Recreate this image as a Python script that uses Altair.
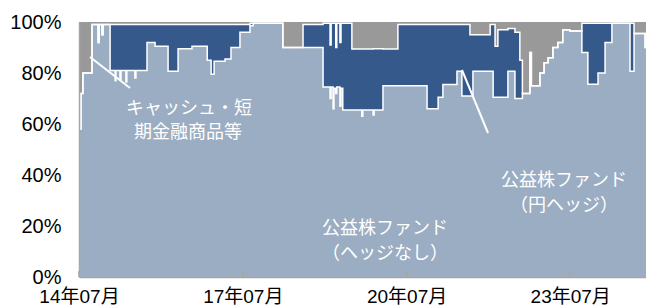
import altair as alt
import pandas as pd

# ---- data (share of fund assets, %) ----
dates = [
    "2014-07-01", "2014-07-14", "2014-07-27", "2014-09-26", "2014-11-06", "2014-11-13",
    "2014-12-02", "2014-12-09", "2015-01-25", "2015-02-28", "2015-03-05", "2015-04-01",
    "2015-04-08", "2015-05-11", "2015-05-17", "2015-07-10", "2015-07-17", "2015-09-29",
    "2015-11-22", "2016-02-17", "2016-04-24", "2016-07-26", "2016-11-05", "2016-12-01",
    "2016-12-21", "2017-03-04", "2017-04-13", "2017-06-12", "2017-08-18", "2017-09-08",
    "2018-03-26", "2018-08-08", "2018-12-20", "2019-02-05", "2019-02-12", "2019-02-25",
    "2019-03-03", "2019-03-15", "2019-03-22", "2019-04-12", "2019-04-19", "2019-05-01",
    "2019-07-01", "2019-09-05", "2019-09-12", "2019-11-20", "2019-11-27", "2020-01-25",
    "2020-05-04", "2020-11-15", "2021-01-28", "2021-03-01", "2021-06-03", "2021-07-06",
    "2021-08-29", "2021-09-18", "2022-01-11", "2022-01-31", "2022-02-13", "2022-03-04",
    "2022-05-10", "2022-06-26", "2022-07-29", "2022-08-15", "2022-10-04", "2022-10-14",
    "2022-12-10", "2023-01-07", "2023-02-03", "2023-03-07", "2023-04-09", "2023-05-12",
    "2023-06-28", "2023-09-17", "2023-10-27", "2024-01-03", "2024-02-19", "2024-04-05",
    "2024-08-04", "2024-08-31", "2024-11-13", "2024-12-16", "2024-12-31",
]
none_pct = [
    58, 72, 80, 99, 92, 99,
    95, 99, 81, 77, 81, 77.5,
    81, 76.5, 81, 78, 81, 92,
    90.5, 80.7, 89.5, 90.5, 85, 79.5,
    84.6, 85.5, 90, 96, 98.5, 99.5,
    90, 90, 74.5, 70, 74.5, 66,
    74, 72, 74.5, 67, 74, 65.5,
    65.5, 63, 65.5, 63.5, 65.5, 75,
    75, 66, 70.5, 75.5, 80.7, 71,
    71, 80.7, 80.7, 70.5, 70.5, 70.5,
    80.7, 70, 70, 72, 88, 75,
    80, 84, 86, 90, 92, 97,
    96.5, 88, 75.6, 80, 92, 99.5,
    80.7, 95.5, 90, 95, 95,
]
hedge_pct = [
    0, 0, 0, 0, 0, 0,
    0, 0, 18, 22, 18, 21.5,
    18, 22.5, 18, 21, 18, 7,
    8.5, 18.3, 9.5, 8.5, 14, 19.5,
    14.4, 13.5, 9, 3, 1, 0,
    0, 9, 25, 21, 25, 33.5,
    25.5, 18, 25, 25, 25.5, 34,
    23.9, 26.4, 23.9, 26, 24, 14.4,
    24, 33, 28.5, 23.5, 18.3, 28,
    24, 14.3, 18.3, 28.5, 20, 26.5,
    16.8, 26, 15, 0, 0, 0,
    0, 0, 0, 0, 0, 0,
    0, 11.5, 23.9, 19.5, 7.5, 0,
    18.8, 0, 0, 0, 0,
]
cash_pct = [
    42, 28, 20, 1, 8, 1,
    5, 1, 1, 1, 1, 1,
    1, 1, 1, 1, 1, 1,
    1, 1, 1, 1, 1, 1,
    1, 1, 1, 1, 0.5, 0.5,
    10, 1, 0.5, 9, 0.5, 0.5,
    0.5, 10, 0.5, 8, 0.5, 0.5,
    10.6, 10.6, 10.6, 10.5, 10.5, 10.6,
    1, 1, 1, 1, 1, 1,
    5, 5, 1, 1, 9.5, 3,
    2.5, 4, 15, 28, 12, 25,
    20, 16, 14, 10, 8, 3,
    3.5, 0.5, 0.5, 0.5, 0.5, 0.5,
    0.5, 4.5, 10, 5, 5,
]

series_names = ["公益株ファンド（ヘッジなし）", "公益株ファンド（円ヘッジ）", "キャッシュ・短期金融商品等"]
series_colors = ["#9BADC2", "#36598C", "#999999"]
y_ticks = [0, 20, 40, 60, 80, 100]
x_tick_years = [2014, 2017, 2020, 2023]

labels = ["キャッシュ・短", "期金融商品等", "公益株ファンド", "（円ヘッジ）", "公益株ファンド", "（ヘッジなし）"]
label_pos = [(110, 87), (109, 111), (485, 159), (485, 184), (306, 207), (306, 232)]
pointer_lines = [(11, 35, 51, 66), (383, 48, 409, 111)]

# ---- tables ----
rows = []
for d, a, b, c in zip(dates, none_pct, hedge_pct, cash_pct):
    for i, (name, v) in enumerate(zip(series_names, (a, b, c))):
        rows.append({"date": d, "series": name, "ord": i, "value": v})
df = pd.DataFrame(rows)

edges = []
for d, a, b in zip(dates, none_pct, hedge_pct):
    edges.append({"date": d, "edge": "L1", "value": a})
    edges.append({"date": d, "edge": "L2", "value": a + b})
edge_df = pd.DataFrame(edges)

tick_df = pd.DataFrame({"date": [f"{y}-07-01" for y in x_tick_years]})

W, H = 567, 255
xscale = alt.Scale(type="utc", domain=[alt.DateTime(year=2014, month=7, date=1, utc=True),
                                       alt.DateTime(year=2024, month=11, date=19, utc=True)])
yscale = alt.Scale(domain=[0, 100], nice=False)

x_axis = alt.Axis(
    values=[alt.DateTime(year=y, month=7, date=1, utc=True) for y in x_tick_years],
    labelExpr="utcFormat(datum.value, '%y年%m月')", ticks=False, grid=False, title=None,
    domainColor="#A6A6A6", domainWidth=1.5, labelFontSize=19,
    labelFont="Liberation Sans, Noto Sans CJK JP", labelColor="black",
    labelPadding=10, labelFlush=False, labelOverlap=False, zindex=1,
)
y_axis = alt.Axis(
    values=y_ticks, labelExpr="datum.value + '%'", ticks=False, grid=False, title=None,
    domainColor="#A6A6A6", domainWidth=1.5, labelFontSize=20, labelFont="Liberation Sans",
    labelColor="black", labelPadding=18, zindex=1,
)

areas = alt.Chart(df).mark_area(interpolate="step-after", clip=True).encode(
    x=alt.X("date:T", scale=xscale, axis=x_axis),
    y=alt.Y("value:Q", stack="zero", scale=yscale, axis=y_axis),
    color=alt.Color("series:N", scale=alt.Scale(domain=series_names, range=series_colors), legend=None),
    order=alt.Order("ord:Q"),
)

white_lines = alt.Chart(edge_df).mark_line(
    interpolate="step-after", color="white", strokeWidth=1.5, clip=True
).encode(
    x=alt.X("date:T", scale=xscale),
    y=alt.Y("value:Q", scale=yscale),
    detail="edge:N",
)

ticks = alt.Chart(tick_df).mark_rule(color="#A6A6A6", strokeWidth=1.5).encode(
    x=alt.X("date:T", scale=xscale),
    y=alt.value(H),
    y2=alt.value(H - 6),
)

layers = [areas, white_lines, ticks]

for (x1, y1, x2, y2) in pointer_lines:
    layers.append(
        alt.Chart(pd.DataFrame({"k": [0]})).mark_rule(color="white", strokeWidth=2).encode(
            x=alt.value(x1), y=alt.value(y1), x2=alt.value(x2), y2=alt.value(y2)
        )
    )

for text, (px, py) in zip(labels, label_pos):
    layers.append(
        alt.Chart(pd.DataFrame({"t": [text]})).mark_text(
            color="white", fontSize=18, font="Noto Sans CJK JP", align="center", baseline="middle"
        ).encode(x=alt.value(px), y=alt.value(py), text="t:N")
    )

chart = alt.layer(*layers).properties(
    width=W, height=H,
    autosize=alt.AutoSizeParams(type="none"),
    padding={"left": 71, "top": 14, "right": 0, "bottom": 30},
).configure_view(stroke=None)

chart.save("out.html", embed_options={"renderer": "svg", "actions": False})
